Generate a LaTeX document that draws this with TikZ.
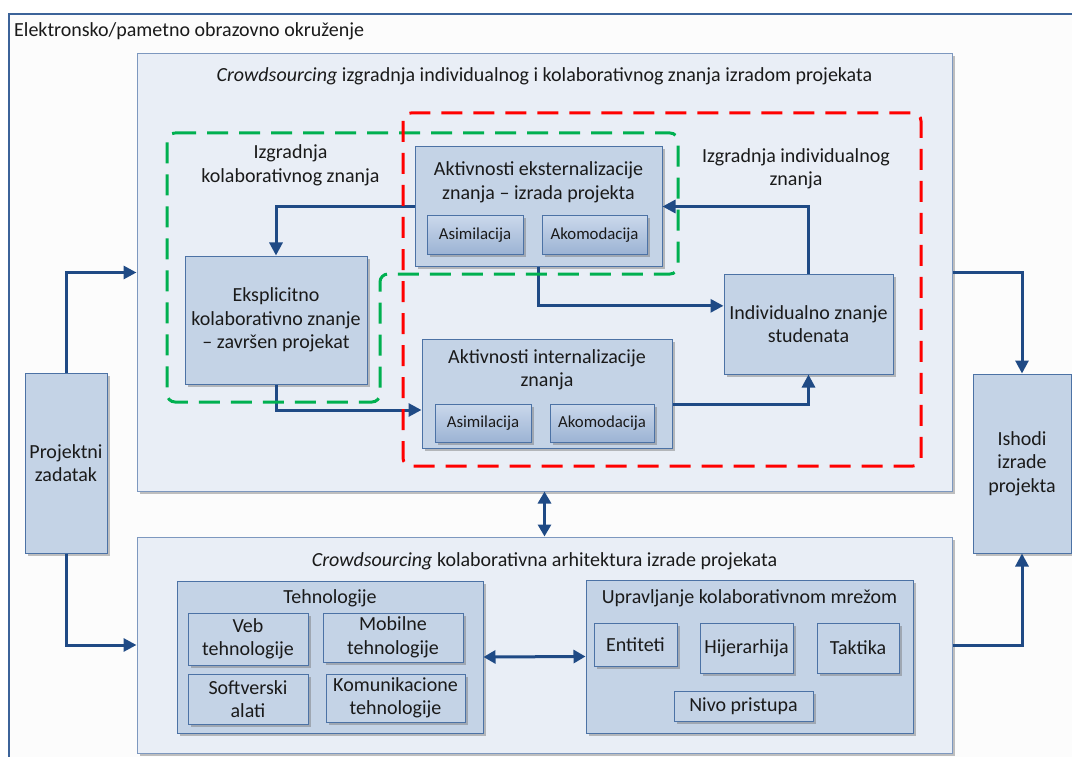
\documentclass[tikz,border=0pt]{standalone}
\usepackage{fontspec}
\setmainfont{Carlito}
\usetikzlibrary{arrows.meta,shadows,calc}
\definecolor{framefill}{HTML}{FCFCFC}
\definecolor{frameline}{HTML}{3C6399}
\definecolor{contfill}{HTML}{E9EEF6}
\definecolor{contline}{HTML}{7D98BF}
\definecolor{boxfill}{HTML}{C4D3E6}
\definecolor{boxline}{HTML}{4C72A5}
\definecolor{subtop}{HTML}{CAD8EB}
\definecolor{subbot}{HTML}{9CB3D4}
\definecolor{arrowc}{HTML}{1F4A85}
\definecolor{greenc}{HTML}{00B050}
\definecolor{redc}{HTML}{FF0000}
\definecolor{txt}{HTML}{1A1A1A}
% #1 style, #2 name, #3 x1, #4 y1, #5 x2, #6 y2, #7 text
\newcommand\rbox[7]{\node[#1, minimum width={(#5-#3)*1pt}, minimum height={(#6-#4)*1pt}] (#2) at ({(#3+#5)/2},{(#4+#6)/2}) {#7};}
\begin{document}
\begin{tikzpicture}[x=1pt,y=-1pt,
  every node/.style={font=\fontsize{20}{23.5}\selectfont, text=txt},
  shadowed/.style={drop shadow={shadow xshift=2.5pt, shadow yshift=-2.5pt, fill=black!55, opacity=.45}},
  frame/.style={draw=frameline, line width=1.3pt, fill=framefill},
  container/.style={draw=contline, line width=1pt, fill=contfill, shadowed, inner sep=0pt},
  box/.style={draw=boxline, line width=1pt, fill=boxfill, shadowed, inner sep=0pt, align=center},
  subbox/.style={box, top color=subtop, bottom color=subbot, font=\fontsize{16.8}{20}\selectfont},
  conn/.style={draw=arrowc, line width=3pt, line join=miter, -{Triangle[length=13pt,width=13pt]}},
  dconn/.style={draw=arrowc, line width=3pt, {Triangle[length=12pt,width=13pt]}-{Triangle[length=12pt,width=13pt]}},
  dashbox/.style={line width=3pt, dash pattern=on 21pt off 11pt, rounded corners=8pt},
  lbl/.style={align=center, inner sep=0pt}
]
\useasboundingbox (0,0) rectangle (1072,757);
\clip (0,0) rectangle (1072,757);
\fill[white] (0,0) rectangle (1072,757);
\draw[frame] (9,14) rectangle (1090,775);
\node[lbl, anchor=west] (envlbl) at (14,31) {Elektronsko/pametno obrazovno okruženje};

% containers
\rbox{container}{top}{137}{54}{952}{491}{}
\rbox{container}{bot}{137}{537}{952}{753}{}
\node[lbl] (toptitle) at (544.5,76) {\textit{Crowdsourcing} izgradnja individualnog i kolaborativnog znanja izradom projekata};
\node[lbl] (bottitle) at (544.5,561) {\textit{Crowdsourcing} kolaborativna arhitektura izrade projekata};

% side boxes
\rbox{box}{proj}{25}{373}{107}{553}{Projektni\\zadatak}
\rbox{box}{ish}{973}{374}{1071}{553}{Ishodi\\izrade\\projekta}

% upper content
\node[lbl] (kollbl) at (290.5,165.5) {Izgradnja\\kolaborativnog znanja};
\node[lbl] (indlbl) at (796,169) {Izgradnja individualnog\\znanja};

\rbox{box}{ext}{415}{147}{662}{266}{}
\node[lbl] (exttitle) at (538.5,182.5) {Aktivnosti eksternalizacije\\znanja – izrada projekta};
\rbox{subbox}{ea1}{427}{216}{523}{254}{Asimilacija}
\rbox{subbox}{ea2}{542}{216}{647}{254}{Akomodacija}

\rbox{box}{int}{422}{339}{672}{448}{}
\node[lbl] (inttitle) at (547,370) {Aktivnosti internalizacije\\znanja};
\rbox{subbox}{ia1}{435}{404}{531}{442}{Asimilacija}
\rbox{subbox}{ia2}{550}{404}{654}{442}{Akomodacija}

\rbox{box}{ind}{724}{274}{893}{374}{Individualno znanje\\studenata}
\rbox{box}{eks}{185}{256}{367}{384}{Eksplicitno\\kolaborativno znanje\\– završen projekat}

% lower content
\rbox{box}{tech}{177}{581}{483}{733}{}
\node[lbl] (techtitle) at (330,598) {Tehnologije};
\rbox{box}{veb}{188}{613}{308}{665}{Veb\\tehnologije}
\rbox{box}{mob}{323}{613}{463}{662}{Mobilne\\tehnologije}
\rbox{box}{soft}{188}{674}{308}{724}{Softverski\\alati}
\rbox{box}{kom}{326}{674}{465}{722}{Komunikacione\\tehnologije}

\rbox{box}{upr}{586}{580}{913}{733}{}
\node[lbl] (uprtitle) at (749.5,598) {Upravljanje kolaborativnom mrežom};
\rbox{box}{ent}{594}{623}{677}{666}{Entiteti}
\rbox{box}{hij}{700}{623}{793}{673}{Hijerarhija}
\rbox{box}{tak}{817}{623}{899}{673}{Taktika}
\rbox{box}{niv}{674}{691}{813}{721}{Nivo pristupa}

% connectors
\draw[conn] (proj.north) |- (top.west);
\draw[conn] (proj.south) |- (bot.west);
\draw[conn] (top.east) -| (ish.north);
\draw[conn] (bot.east) -| (ish.south);
\draw[dconn] (top.south) -- (bot.north);
\draw[dconn] (tech.east) -- (upr.west);

\draw[conn] (ext.west) -| (eks.north);
\draw[conn] (eks.south) |- ($(int.south west)!0.35!(int.north west)$);
\draw[conn] (ext.south) |- ($(ind.north west)!0.32!(ind.south west)$);
\draw[conn] ($(int.north east)!0.6!(int.south east)$) -| (ind.south);
\draw[conn] (ind.north) |- (ext.east);

% dashed regions
\draw[dashbox, draw=greenc] (167,133) -- (678,133) -- (678,274) -- (380,274) -- (380,402) -- (167,402) -- cycle;
\draw[dashbox, draw=redc] (403,113) rectangle (921,466);
\end{tikzpicture}
\end{document}
